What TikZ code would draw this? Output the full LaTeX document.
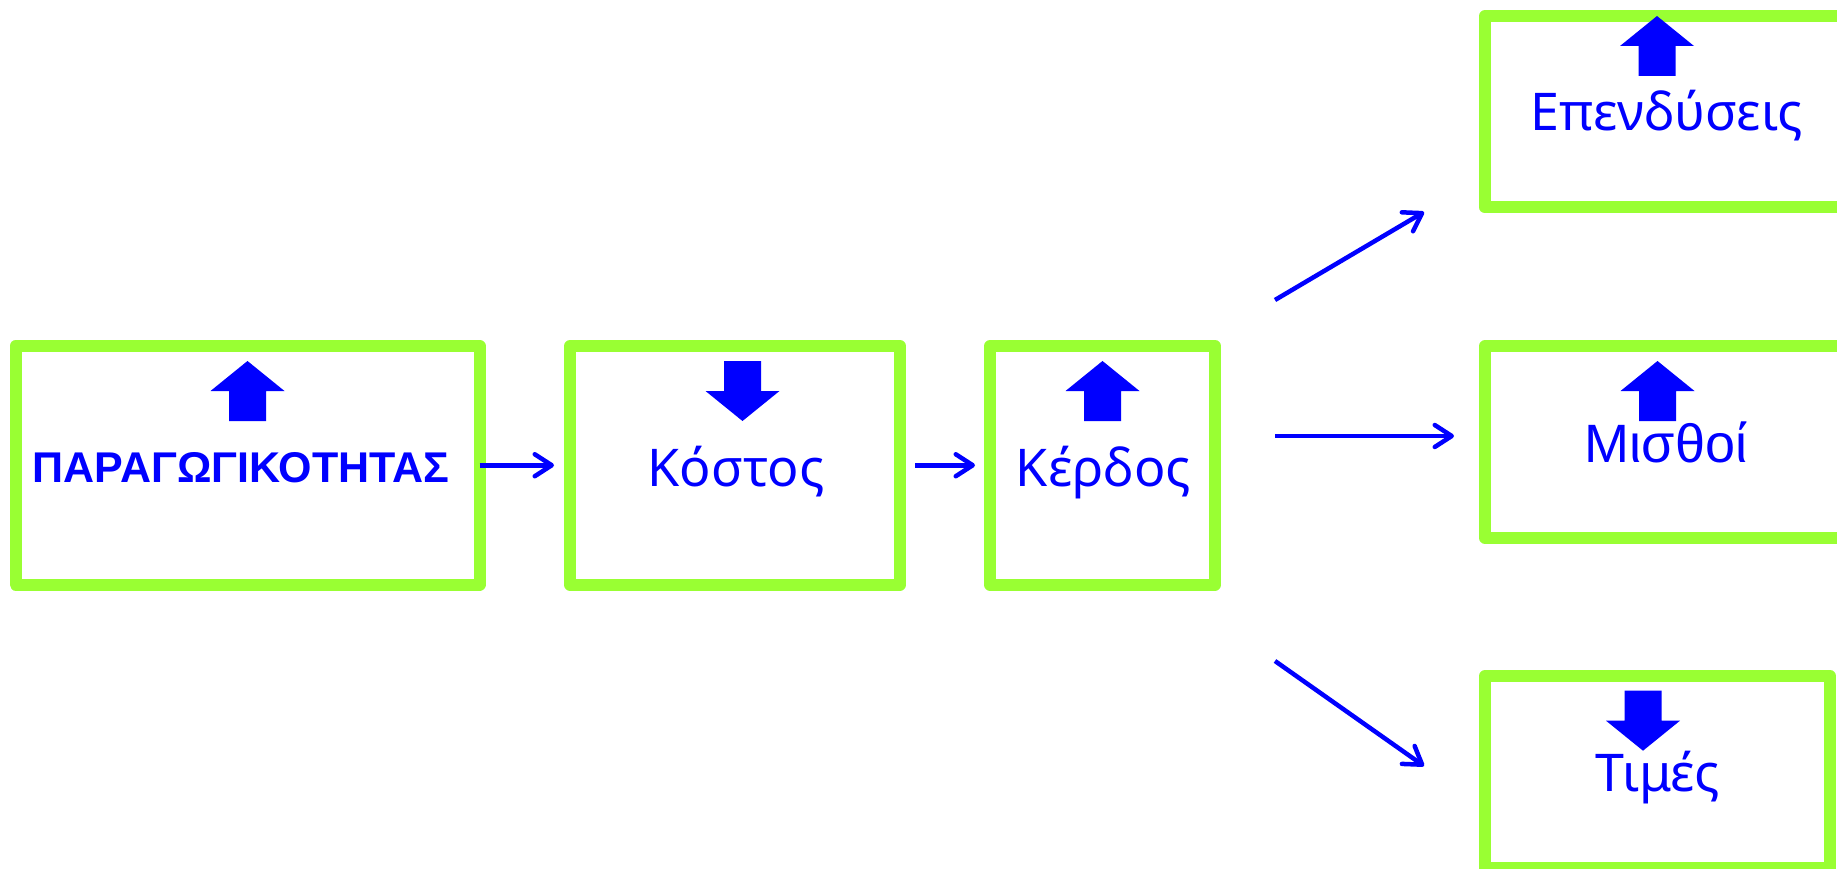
\documentclass[tikz,border=0pt]{standalone}
\usepackage{fontspec}
\usepackage{tikz}
\usetikzlibrary{arrows.meta, positioning}
\newfontfamily\boxfont{Noto Sans}
\newfontfamily\arialfont{Liberation Sans}
\definecolor{boxgreen}{RGB}{153,255,51}

\begin{document}
\begin{tikzpicture}[x=1pt, y=-1pt,
	box/.style={draw=boxgreen, line width=12pt, line join=round, rectangle, outer sep=0pt, inner sep=0pt},
	conn/.style={draw=blue, line width=4.5pt, -{Straight Barb[length=17pt, width=22pt, round]}},
	txt/.style={anchor=base, text=blue, inner sep=0pt, font=\boxfont\fontsize{52}{60}\selectfont},
	blockarr/.pic={\fill[blue] (0,-30) -- (37,0) -- (18.5,0) -- (18.5,30) -- (-18.5,30) -- (-18.5,0) -- (-37,0) -- cycle;}]
		\useasboundingbox (0,0) rectangle (1837,869);
		\node[box, minimum width=464pt, minimum height=238.5pt] (parag) at (247.5, 465.25) {};
		\node[box, minimum width=330pt, minimum height=238.5pt] (kostos) at (735, 465.25) {};
		\node[box, minimum width=225pt, minimum height=238.5pt] (kerdos) at (1102.5, 465.25) {};
		\node[box, minimum width=365pt, minimum height=191.5pt] (epend) at (1667.5, 111.75) {};
		\node[box, minimum width=365pt, minimum height=191.5pt] (misthoi) at (1667.5, 442) {};
		\node[box, minimum width=345pt, minimum height=192pt] (times) at (1657.5, 772) {};
		
		\pic at (247.5, 391) {blockarr};
		\pic[rotate=180] at (742.5, 391) {blockarr};
		\pic at (1102.5, 391) {blockarr};
		\pic at (1657, 46) {blockarr};
		\pic at (1657.5, 391) {blockarr};
		\pic[rotate=180] at (1643, 720.7) {blockarr};
		
		\node[txt, font=\arialfont\bfseries\fontsize{43}{50}\selectfont] (tparag) at (241, 482.3) {ΠΑΡΑΓΩΓΙΚΟΤΗΤΑΣ};
		\node[txt] (tkostos) at (736, 486) {Κόστος};
		\node[txt] (tkerdos) at (1103.5, 486) {Κέρδος};
		\node[txt] (tepend) at (1666.5, 131) {Επενδύσεις};
		\node[txt, font=\arialfont\fontsize{54}{60}\selectfont] (tmisthoi) at (1666, 462.5) {Μισθοί};
		\node[txt] (ttimes) at (1658, 791.7) {Τιμές};
		
		\coordinate (k1) at (1275, 300); \coordinate (e1) at (1424, 212);
		\coordinate (k2) at (1275, 436); \coordinate (m1) at (1454, 436);
		\coordinate (k3) at (1275, 661); \coordinate (t1) at (1424, 766);
		\draw[conn, shorten >=16pt] (parag) -- (kostos);
		\draw[conn, shorten <=15pt, shorten >=15pt] (kostos) -- (kerdos);
		\draw[conn] (k1) -- (e1);
		\draw[conn] (k2) -- (m1);
		\draw[conn] (k3) -- (t1);
	\end{tikzpicture}
\end{document}
